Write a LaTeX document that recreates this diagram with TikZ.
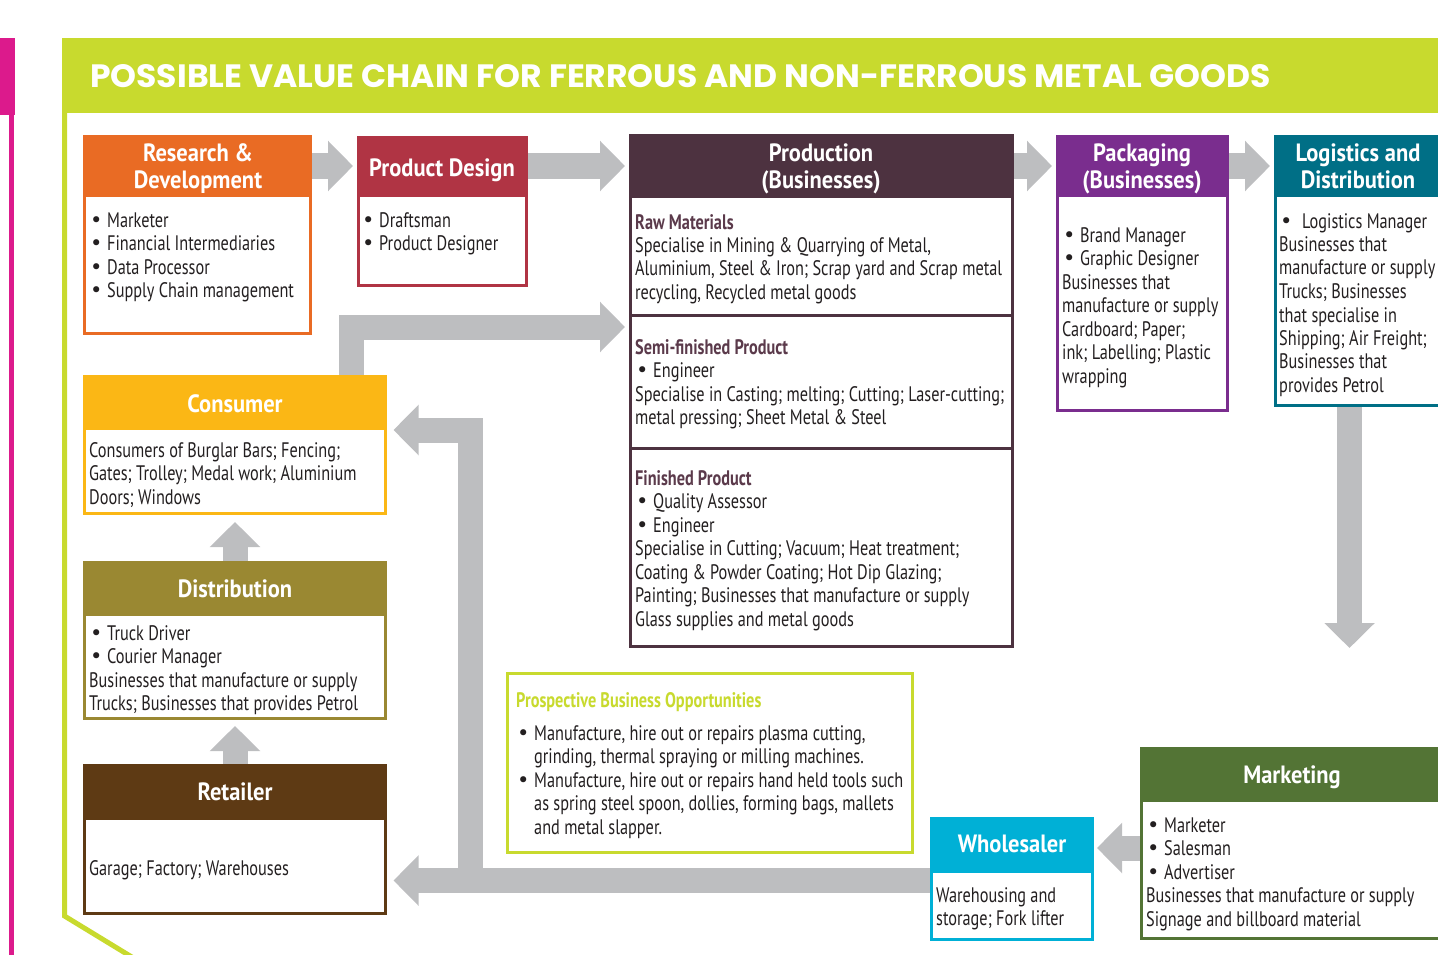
\documentclass[tikz,border=0pt]{standalone}
\usepackage{fontspec}
\setmainfont{PT Sans}[FakeStretch=0.775]
\newfontfamily\hfam{PT Sans}[FakeStretch=0.9]
\newfontfamily\bulfont{DejaVu Sans}
\newfontfamily\titlefont{Poppins}
\usetikzlibrary{arrows.meta}
\definecolor{lime}{HTML}{C8DA2E}
\definecolor{magenta}{HTML}{DC1A8C}
\definecolor{rdorange}{HTML}{E96B24}
\definecolor{crimson}{HTML}{B03444}
\definecolor{plum}{HTML}{4D3240}
\definecolor{plumtext}{HTML}{5B3A4B}
\definecolor{purp}{HTML}{7A2D8E}
\definecolor{teal}{HTML}{006F86}
\definecolor{consy}{HTML}{FBB715}
\definecolor{olive}{HTML}{9A8832}
\definecolor{brown}{HTML}{5E3A14}
\definecolor{cyanw}{HTML}{00B0D6}
\definecolor{mktgreen}{HTML}{537435}
\definecolor{arrowgray}{HTML}{BDBEC0}
\definecolor{txt}{HTML}{231F20}
\newcommand\bfnt{\fontsize{21pt}{23.5pt}\selectfont}
\newcommand\hfnt{\hfam\fontsize{25pt}{27pt}\selectfont\bfseries}
\newcommand\bul{\makebox[18pt][l]{\hspace{1pt}{\bulfont •}}}
\newcommand\tl[1]{\begin{tabular}[t]{@{}l@{}}#1\end{tabular}}
\newcommand\tc[1]{\begin{tabular}[t]{@{}c@{}}#1\end{tabular}}
\begin{document}
\begin{tikzpicture}[x=1pt,y=-1pt,
  frame/.style={draw=#1, line width=3pt, anchor=north west, inner sep=0pt, outer sep=0pt, fill=white},
  hdr/.style={fill=#1, draw=#1, line width=3pt, anchor=north west, inner sep=0pt, outer sep=0pt},
  htext/.style={anchor=base, inner sep=0pt, font=\hfnt, text=white},
  body/.style={anchor=base west, inner sep=0pt, font=\bfnt, text=txt},
  blk/.style={draw=arrowgray, line width=25pt, -{Triangle[length=25pt,width=49pt]}},
]
\useasboundingbox (0,0) rectangle (1438,955);
\clip (0,0) rectangle (1438,955);
% page decorations
\fill[magenta] (0,38) rectangle (15,115);
\fill[magenta] (9,115) rectangle (14,960);
\fill[lime] (62,38) rectangle (1440,113);
\draw[lime, line width=5pt] (64.5,113) -- (64.5,916) -- (140,962);
\node[anchor=base west, inner sep=0pt, text=white] (title) at (90,88)
  {\resizebox{1180pt}{23pt}{\titlefont\bfseries POSSIBLE VALUE CHAIN FOR FERROUS AND NON-FERROUS METAL GOODS}};

% box frames (named)
\path (84.5,136.5) node[frame=rdorange, minimum width=226pt, minimum height=197pt] (rd) {};
\path (358.5,137.5) node[frame=crimson, minimum width=168pt, minimum height=148pt] (pd) {};
\path (630.5,135.5) node[frame=plum, minimum width=382pt, minimum height=511pt] (prod) {};
\path (1057.5,136.5) node[frame=purp, minimum width=170pt, minimum height=274pt] (pack) {};
\path (1275.5,136.5) node[frame=teal, minimum width=173pt, minimum height=269pt] (log) {};
\path (84.5,376.5) node[frame=consy, minimum width=301pt, minimum height=137pt] (cons) {};
\path (84.5,562.5) node[frame=olive, minimum width=301pt, minimum height=156pt] (dist) {};
\path (84.5,765.5) node[frame=brown, minimum width=301pt, minimum height=148pt] (ret) {};
\path (507.5,673.5) node[frame=lime, minimum width=405pt, minimum height=179pt] (pros) {};
\path (931.5,818.5) node[frame=cyanw, minimum width=161pt, minimum height=121pt] (whole) {};
\path (1141.5,748.5) node[frame=mktgreen, minimum width=307pt, minimum height=190pt] (mkt) {};

% arrows
\coordinate (a1) at ([yshift=69pt]rd.east);
\draw[blk, shorten >=5.5pt] (a1) -- (a1 -| pd.west);
\coordinate (a2) at ([yshift=45.5pt]pd.east);
\draw[blk, shorten >=5.5pt] (a2) -- (a2 -| prod.west);
\coordinate (a3) at ([yshift=225pt]prod.east);
\draw[blk, shorten >=5.5pt] (a3) -- (a3 -| pack.west);
\coordinate (a4) at ([yshift=107.5pt]pack.east);
\draw[blk, shorten >=5.5pt] (a4) -- (a4 -| log.west);
\coordinate (a5) at ([xshift=-12.5pt]log.south);
\coordinate (logend) at (1349.5,648);
\draw[blk] (a5) -- (a5 |- logend);
\coordinate (a6) at ([xshift=116pt]cons.north);
\draw[blk, shorten >=5.5pt] (a6) |- ([yshift=64pt]prod.west);
\coordinate (a7) at ([yshift=-1.5pt]whole.west);
\draw[blk, shorten >=8pt] (a7) -- (a7 -| ret.east);
\coordinate (j) at (470,880.5);
\draw[blk, shorten >=8pt] (j) |- ([yshift=15pt]cons.east);
\draw[blk, shorten >=8.5pt] (dist.north) -- (cons.south);
\draw[blk, shorten >=7.5pt] (ret.north) -- (dist.south);
\coordinate (a11) at ([yshift=-4.5pt]mkt.west);
\draw[blk, shorten >=4.5pt] (a11) -- (a11 -| whole.east);

% frames again on top of arrow ends
\path (84.5,136.5) node[frame=rdorange, minimum width=226pt, minimum height=197pt] {};
\path (358.5,137.5) node[frame=crimson, minimum width=168pt, minimum height=148pt] {};
\path (630.5,135.5) node[frame=plum, minimum width=382pt, minimum height=511pt] {};
\path (1057.5,136.5) node[frame=purp, minimum width=170pt, minimum height=274pt] {};
\path (1275.5,136.5) node[frame=teal, minimum width=173pt, minimum height=269pt] {};
\path (84.5,376.5) node[frame=consy, minimum width=301pt, minimum height=137pt] {};
\path (84.5,562.5) node[frame=olive, minimum width=301pt, minimum height=156pt] {};
\path (84.5,765.5) node[frame=brown, minimum width=301pt, minimum height=148pt] {};
\path (507.5,673.5) node[frame=lime, minimum width=405pt, minimum height=179pt] {};
\path (931.5,818.5) node[frame=cyanw, minimum width=161pt, minimum height=121pt] {};
\path (1141.5,748.5) node[frame=mktgreen, minimum width=307pt, minimum height=190pt] {};

% headers
\path (84.5,136.5) node[hdr=rdorange, minimum width=226pt, minimum height=59pt] (rdh) {};
\path (358.5,137.5) node[hdr=crimson, minimum width=168pt, minimum height=58pt] (pdh) {};
\path (630.5,135.5) node[hdr=plum, minimum width=382pt, minimum height=61pt] (prodh) {};
\path (1057.5,136.5) node[hdr=purp, minimum width=170pt, minimum height=59pt] (packh) {};
\path (1275.5,136.5) node[hdr=teal, minimum width=173pt, minimum height=59pt] (logh) {};
\path (84.5,376.5) node[hdr=consy, minimum width=301pt, minimum height=52pt] (consh) {};
\path (84.5,562.5) node[hdr=olive, minimum width=301pt, minimum height=52pt] (disth) {};
\path (84.5,765.5) node[hdr=brown, minimum width=301pt, minimum height=53pt] (reth) {};
\path (931.5,818.5) node[hdr=cyanw, minimum width=161pt, minimum height=53pt] (wholeh) {};
\path (1141.5,748.5) node[hdr=mktgreen, minimum width=307pt, minimum height=52pt] (mkth) {};

% production dividers
\draw[plum, line width=3pt] ([yshift=76pt]prod.west) coordinate (d1) -- (d1 -| prod.east);
\draw[plum, line width=3pt] ([yshift=-57pt]prod.west) coordinate (d2) -- (d2 -| prod.east);

% header texts
\node[htext] (rdt) at (198,162) {\tc{Research \&\\Development}};
\node[htext] (pdt) at (442,177) {Product Design};
\node[htext] (prodt) at (821,162) {\tc{Production\\(Businesses)}};
\node[htext] (packt) at (1142,162) {\tc{Packaging\\(Businesses)}};
\node[htext] (logt) at (1358,162) {\tc{Logistics and\\Distribution}};
\node[htext] (const) at (235,412) {Consumer};
\node[htext] (distt) at (235,597) {Distribution};
\node[htext] (rett) at (235,800) {Retailer};
\node[htext] (wholet) at (1012,852) {Wholesaler};
\node[htext] (mktt) at (1292,783) {Marketing};

% body texts
\node[body] (rdb) at (89,227) {\tl{\bul Marketer\\\bul Financial Intermediaries\\\bul Data Processor\\\bul Supply Chain management}};
\node[body] (pdb) at (361,227) {\tl{\bul Draftsman\\\bul Product Designer}};
\node[body] (rawb) at (635,229) {\tl{{\bfseries\color{plumtext}Raw Materials}\\Specialise in Mining \& Quarrying of Metal,\\Aluminium, Steel \& Iron; Scrap yard and Scrap metal\\recycling, Recycled metal goods}};
\node[body] (semib) at (635,354) {\tl{{\bfseries\color{plumtext}Semi-finished Product}\\\bul Engineer\\Specialise in Casting; melting; Cutting; Laser-cutting;\\metal pressing; Sheet Metal \& Steel}};
\node[body] (finb) at (635,485) {\tl{{\bfseries\color{plumtext}Finished Product}\\\bul Quality Assessor\\\bul Engineer\\Specialise in Cutting; Vacuum; Heat treatment;\\Coating \& Powder Coating; Hot Dip Glazing;\\Painting; Businesses that manufacture or supply\\Glass supplies and metal goods}};
\node[body] (packb) at (1062,242) {\tl{\bul Brand Manager\\\bul Graphic Designer\\Businesses that\\manufacture or supply\\Cardboard; Paper;\\ink; Labelling; Plastic\\wrapping}};
\node[body] (logb) at (1279,228) {\tl{\makebox[23pt][l]{\hspace{1pt}{\bulfont •}}Logistics Manager\\Businesses that\\manufacture or supply\\Trucks; Businesses\\that specialise in\\Shipping; Air Freight;\\Businesses that\\provides Petrol}};
\node[body] (consb) at (89,457) {\tl{Consumers of Burglar Bars; Fencing;\\Gates; Trolley; Medal work; Aluminium\\Doors; Windows}};
\node[body] (distb) at (89,640) {\tl{\bul Truck Driver\\\bul Courier Manager\\Businesses that manufacture or supply\\Trucks; Businesses that provides Petrol}};
\node[body] (retb) at (89,875) {Garage; Factory; Warehouses};
\node[body] (prosh) at (516,707) {\bfseries\color{lime}Prospective Business Opportunities};
\node[body] (prosb) at (516,740) {\tl{\bul Manufacture, hire out or repairs plasma cutting,\\\hspace{18pt}grinding, thermal spraying or milling machines.\\\bul Manufacture, hire out or repairs hand held tools such\\\hspace{18pt}as spring steel spoon, dollies, forming bags, mallets\\\hspace{18pt}and metal slapper.}};
\node[body] (wholeb) at (936,902) {\tl{Warehousing and\\storage; Fork lifter}};
\node[body] (mktb) at (1146,832) {\tl{\bul Marketer\\\bul Salesman\\\bul Advertiser\\Businesses that manufacture or supply\\Signage and billboard material}};
\end{tikzpicture}
\end{document}
